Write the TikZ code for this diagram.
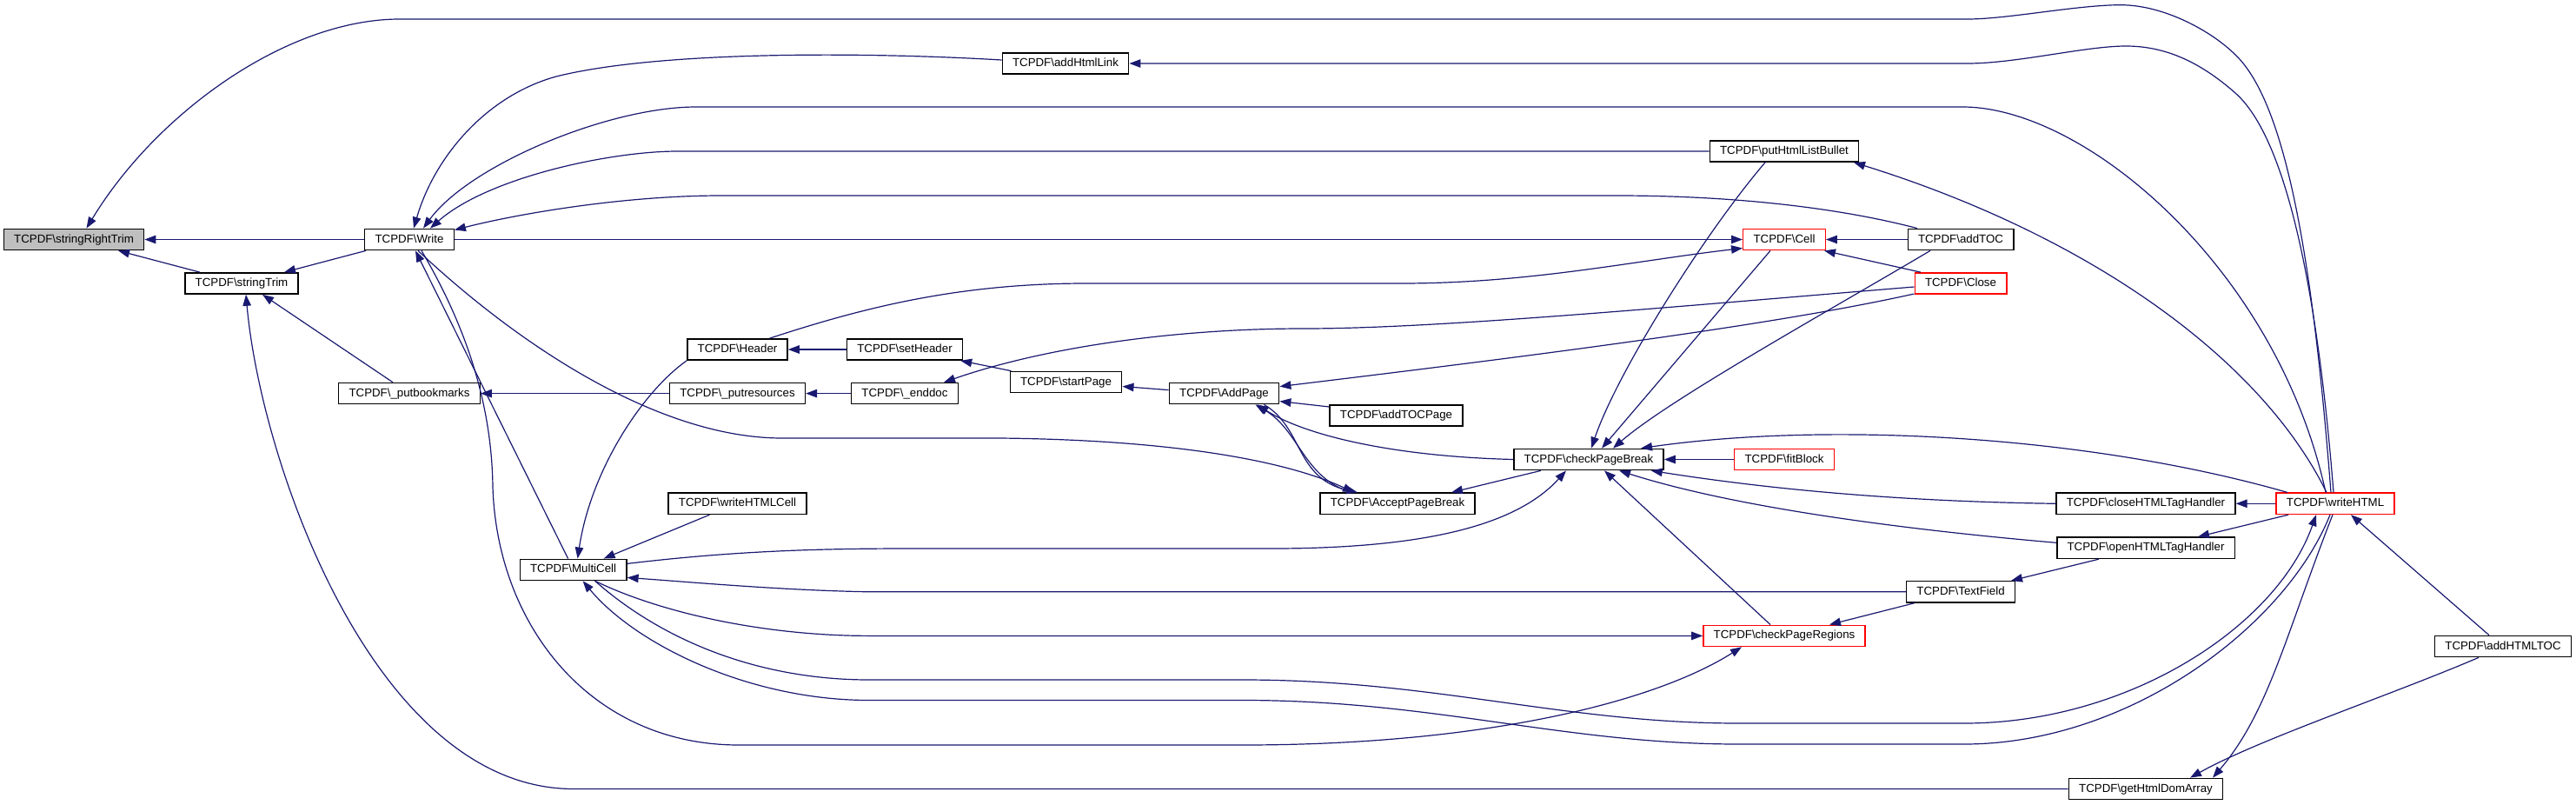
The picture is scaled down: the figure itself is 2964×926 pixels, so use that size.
\documentclass[tikz,border=0pt]{standalone}
\usepackage{fontspec}
\setmainfont{Liberation Sans}
\usetikzlibrary{arrows.meta}
\definecolor{edgeblue}{HTML}{191970}
\definecolor{selgray}{HTML}{BFBFBF}
\newcommand{\tcpdf}[1]{TCPDF\textbackslash #1}
\tikzset{
	fn/.style={draw=black, line width=1.4pt, fill=white, inner xsep=11.8pt, inner ysep=0pt,
		minimum height=24.3pt, text height=9.8pt, text depth=2.8pt,
		font=\fontsize{13.3}{15}\selectfont},
	fnred/.style={fn, draw=red},
	fnsel/.style={fn, fill=selgray},
	call/.style={draw=edgeblue, line width=1.2pt, -{Triangle[length=13pt,width=9.5pt]}},
}

\begin{document}
\begin{tikzpicture}[x=1pt, y=-1pt]
			%%%%% START %%%%%
			\useasboundingbox (0,0) rectangle (2964,926);
			
			\node[fnsel] (strrtrim) at (85,275.5) {\tcpdf{stringRightTrim}};
			\node[fn] (strtrim) at (278,326) {\tcpdf{stringTrim}};
			\node[fn] (write) at (471,275.5) {\tcpdf{Write}};
			\node[fn] (putbm) at (471,452.6) {\tcpdf{\_putbookmarks}};
			\node[fn] (multicell) at (659.6,655.4) {\tcpdf{MultiCell}};
			\node[fn] (header) at (848.5,402) {\tcpdf{Header}};
			\node[fn] (putres) at (848.5,452.6) {\tcpdf{\_putresources}};
			\node[fn] (whtmlcell) at (848.5,579.3) {\tcpdf{writeHTMLCell}};
			\node[fn] (setheader) at (1041,402) {\tcpdf{setHeader}};
			\node[fn] (enddoc) at (1041,452.6) {\tcpdf{\_enddoc}};
			\node[fn] (htmllink) at (1226,73) {\tcpdf{addHtmlLink}};
			\node[fn] (startpage) at (1226.5,439.5) {\tcpdf{startPage}};
			\node[fn] (addpage) at (1408.5,452.6) {\tcpdf{AddPage}};
			\node[fn] (tocpage) at (1606.5,478) {\tcpdf{addTOCPage}};
			\node[fn] (acceptpb) at (1608,579.3) {\tcpdf{AcceptPageBreak}};
			\node[fn] (checkpb) at (1828,528.5) {\tcpdf{checkPageBreak}};
			\node[fn] (listbullet) at (2053,174) {\tcpdf{putHtmlListBullet}};
			\node[fnred] (cell) at (2053,275.5) {\tcpdf{Cell}};
			\node[fnred] (fitblock) at (2053,528.5) {\tcpdf{fitBlock}};
			\node[fnred] (checkpr) at (2053,731.4) {\tcpdf{checkPageRegions}};
			\node[fn] (addtoc) at (2256,275.5) {\tcpdf{addTOC}};
			\node[fnred] (close) at (2256,326) {\tcpdf{Close}};
			\node[fn] (textfield) at (2256,680.8) {\tcpdf{TextField}};
			\node[fn] (closetag) at (2469,579.3) {\tcpdf{closeHTMLTagHandler}};
			\node[fn] (opentag) at (2469,630.3) {\tcpdf{openHTMLTagHandler}};
			\node[fn] (domarray) at (2469,907.5) {\tcpdf{getHtmlDomArray}};
			\node[fnred] (writehtml) at (2687,579.3) {\tcpdf{writeHTML}};
			\node[fn] (htmltoc) at (2880,743.5) {\tcpdf{addHTMLTOC}};
			
			% callers of stringRightTrim and stringTrim
			\draw[call] (write.west) -- (strrtrim.east);
			\draw[call] ([xshift=-48]strtrim.north) -- ([xshift=51]strrtrim.south);
			\draw[call] ([xshift=-50]write.south) -- ([xshift=49]strtrim.north);
			\draw[call] ([xshift=-19]putbm.north) -- ([xshift=24]strtrim.south);
			\draw[call] (domarray.west) -- (660,907.5) .. controls (430,907.5) and (300,530) .. ([xshift=5]strtrim.south);
			\draw[call] ([xshift=-5]writehtml.north) .. controls (2662,310) and (2632,120) .. (2572,63) .. controls (2545,36) and (2490,5.7) .. (2440,5.7) .. controls (2390,5.7) and (2310,22) .. (2264,22) -- (460,22) .. controls (330,22) and (180,130) .. ([xshift=14.5]strrtrim.north);
			
			% callers of Write
			\draw[call] ([xshift=-2]writehtml.north) .. controls (2667,340) and (2632,160) .. (2572,107) .. controls (2530,70) and (2490,53) .. (2446,53) .. controls (2400,53) and (2320,73) .. (2264,73) -- (htmllink.east);
			\draw[call] ([yshift=4]htmllink.west) .. controls (1000,60) and (760,58) .. (640,88) .. controls (560,110) and (500,180) .. ([xshift=5]write.north);
			\draw[call] ([xshift=-11]writehtml.north) .. controls (2620,310) and (2400,123) .. (2258,123) -- (801,123) .. controls (700,123) and (540,190) .. ([xshift=16]write.north);
			\draw[call] (listbullet.west) -- (780,174) .. controls (700,174) and (560,205) .. ([xshift=24]write.north);
			\draw[call] ([xshift=-50]addtoc.north) .. controls (2120,240) and (2000,225) .. (1860,225) -- (830,225) .. controls (720,225) and (600,245) .. ([yshift=11]write.east);
			\draw[call] ([xshift=-6]multicell.north) -- ([xshift=7]write.south);
			
			% Write and Header into Cell
			\draw[call] (write.east) -- (cell.west);
			\draw[call] ([xshift=37]header.north) .. controls (990,355) and (1100,326) .. (1250,326) -- (1612,326) .. controls (1760,326) and (1880,300) .. ([yshift=-10]cell.west);
			\draw[call] (addtoc.west) -- (cell.east);
			\draw[call] ([xshift=-46]close.north) -- ([xshift=-2]cell.south east);
			
			% callers of checkPageBreak
			\draw[call] ([xshift=-16]cell.south) -- ([xshift=15]checkpb.north);
			\draw[call] ([xshift=-22]listbullet.south) .. controls (1960,270) and (1860,430) .. ([xshift=3]checkpb.north);
			\draw[call] ([xshift=-35]addtoc.south) .. controls (2100,360) and (1920,460) .. ([xshift=28]checkpb.north);
			\draw[call] ([xshift=-55]writehtml.north) .. controls (2400,500) and (2100,485) .. ([xshift=60]checkpb.north);
			\draw[call] (fitblock.west) -- (checkpb.east);
			\draw[call] (closetag.west) .. controls (2200,577) and (2050,565) .. ([xshift=-15]checkpb.south east);
			\draw[call] ([yshift=6]opentag.west) .. controls (2200,610) and (2000,585) .. ([xshift=35]checkpb.south);
			\draw[call] ([xshift=-16]checkpr.north) -- ([xshift=18]checkpb.south);
			\draw[call] ([yshift=7]multicell.east) .. controls (850,633) and (950,631) .. (1050,631) -- (1450,631) .. controls (1620,632) and (1740,610) .. ([xshift=-26]checkpb.south);
			
			% AddPage and AcceptPageBreak
			\draw[call] ([xshift=-55]checkpb.south) -- ([xshift=62]acceptpb.north);
			\draw[call] (checkpb.west) .. controls (1600,525) and (1500,500) .. ([xshift=38]addpage.south);
			\draw[call] ([xshift=-53]acceptpb.north) .. controls (1500,550) and (1495,495) .. ([xshift=36]addpage.south);
			\draw[call] ([xshift=46]addpage.south) .. controls (1500,492) and (1490,550) .. ([xshift=-46]acceptpb.north);
			\draw[call] ([xshift=10]write.south) .. controls (600,400) and (760,504) .. (900,504) -- (1150,504) .. controls (1350,506) and (1480,530) .. ([xshift=-50]acceptpb.north);
			\draw[call] ([yshift=-12]close.west) .. controls (2050,372) and (1800,405) .. ([yshift=8]addpage.east);
			\draw[call] ([yshift=10]tocpage.west) -- ([yshift=-9]addpage.east);
			\draw[call] ([yshift=4]addpage.west) -- ([yshift=-5]startpage.east);
			\draw[call] ([xshift=-63]startpage.north) -- ([xshift=-3]setheader.south east);
			\draw[call] (setheader.west) -- (header.east);
			\draw[call] ([yshift=-4]close.west) .. controls (1900,355) and (1650,378) .. (1500,378) .. controls (1350,378) and (1200,400) .. ([xshift=45]enddoc.north);
			\draw[call] (enddoc.west) -- (putres.east);
			\draw[call] (putres.west) -- (putbm.east);
			
			% MultiCell
			\draw[call] ([xshift=-32]whtmlcell.south) -- ([xshift=35]multicell.north);
			\draw[call] (header.south west) .. controls (740,450) and (680,540) .. ([xshift=5]multicell.north);
			\draw[call] (textfield.west) -- (1000,680.8) .. controls (900,679) and (800,670) .. ([yshift=-9]multicell.east);
			\draw[call] ([xshift=25]multicell.south) .. controls (760,705) and (880,731.4) .. (1000,731.4) -- (checkpr.west);
			\draw[call] ([xshift=25]multicell.south) .. controls (760,735) and (870,782) .. (1000,782) -- (1430,782) .. controls (1650,782) and (1800,832) .. (2000,832) -- (2260,832) .. controls (2450,832) and (2620,720) .. ([xshift=-22]writehtml.south);
			\draw[call] ([xshift=-6]writehtml.south) .. controls (2630,720) and (2450,856) .. (2260,856) -- (2000,856) .. controls (1800,856) and (1650,805.5) .. (1430,805.5) -- (1000,805.5) .. controls (860,805.5) and (730,740) .. ([xshift=11]multicell.south);
			\draw[call] ([xshift=14]write.south) .. controls (545,390) and (566,480) .. (567,560) .. controls (572,720) and (680,857) .. (850,857) -- (1430,857) .. controls (1700,857) and (1900,810) .. ([xshift=-49]checkpr.south);
			
			% writeHTML and the tag handlers
			\draw[call] ([xshift=-10]writehtml.north) .. controls (2600,410) and (2400,270) .. ([xshift=80]listbullet.south);
			\draw[call] (writehtml.west) -- (closetag.east);
			\draw[call] ([xshift=-54]writehtml.south) -- ([xshift=60]opentag.north);
			\draw[call] ([xshift=-54]opentag.south) -- ([xshift=58]textfield.north);
			\draw[call] ([xshift=-53]textfield.south) -- ([xshift=52]checkpr.north);
			\draw[call] ([xshift=-16]htmltoc.north) -- ([xshift=18]writehtml.south);
			\draw[call] ([xshift=-28]htmltoc.south) .. controls (2750,800) and (2600,850) .. ([xshift=51]domarray.north);
			\draw[call] ([xshift=-3]writehtml.south) .. controls (2630,730) and (2610,820) .. ([xshift=77]domarray.north);
			
			%%%%% END %%%%%
\end{tikzpicture}
\end{document}
